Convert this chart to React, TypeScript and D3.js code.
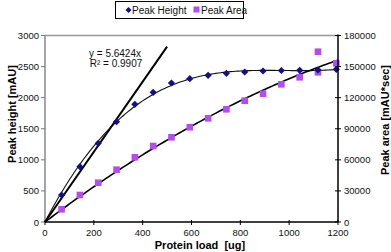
import React from "react";
import * as d3 from "d3";

const heightX = [68, 143, 218, 293, 368, 443, 518, 593, 668, 743, 818, 893, 968, 1043, 1118, 1193];
const heightY = [434, 890, 1266, 1613, 1893, 2086, 2236, 2305, 2360, 2392, 2413, 2429, 2437, 2440, 2445, 2456];
const areaX = [68, 143, 218, 293, 368, 443, 518, 593, 668, 743, 818, 893, 968, 1043, 1118, 1118, 1193];
const areaY = [12260, 26060, 37930, 50480, 62440, 73350, 81740, 91490, 100080, 108770, 117070, 123820, 132890, 139650, 144480, 164360, 153160];
const xTicks = [0, 200, 400, 600, 800, 1000, 1200];
const leftTicks = [0, 500, 1000, 1500, 2000, 2500, 3000];
const rightTicks = [0, 30000, 60000, 90000, 120000, 150000, 180000];
const linearSlope = 5.6424;
const linearEnd = 500;
const eqLabel = "y = 5.6424x";
const r2Label = "R\u00B2 = 0.9907";

// least squares polynomial with zero intercept: y = sum_{k=1..n} c_k x^k
function fitPoly(xs: number[], ys: number[], order: number): number[] {
  const s = 1000;
  const n = order;
  const A: number[][] = Array.from({ length: n }, () => new Array(n + 1).fill(0));
  xs.forEach((xv, i) => {
    const x = xv / s;
    const pw = d3.range(1, n + 1).map((k) => Math.pow(x, k));
    for (let r = 0; r < n; r++) {
      for (let c = 0; c < n; c++) A[r][c] += pw[r] * pw[c];
      A[r][n] += pw[r] * ys[i];
    }
  });
  for (let p = 0; p < n; p++) {
    let m = p;
    for (let r = p + 1; r < n; r++) if (Math.abs(A[r][p]) > Math.abs(A[m][p])) m = r;
    [A[p], A[m]] = [A[m], A[p]];
    for (let r = 0; r < n; r++) {
      if (r === p) continue;
      const f = A[r][p] / A[p][p];
      for (let c = p; c <= n; c++) A[r][c] -= f * A[p][c];
    }
  }
  const coef = A.map((row, i) => row[n] / row[i]);
  return coef.map((c, k) => c / Math.pow(s, k + 1));
}
const evalPoly = (c: number[], x: number) => c.reduce((acc, ck, k) => acc + ck * Math.pow(x, k + 1), 0);

const FONT = "'Liberation Sans', Arial, sans-serif";

export default function App() {
  const W = 391, H = 252;
  const x = d3.scaleLinear().domain([0, 1200]).range([45, 338]);
  const yL = d3.scaleLinear().domain([0, 3000]).range([222, 35.5]);
  const yR = d3.scaleLinear().domain([0, 180000]).range([222, 35.5]);

  const hCoef = fitPoly(heightX, heightY, 3);
  const aCoef = fitPoly(areaX, areaY, 2);
  const grid = d3.range(0, 1200.001, 10);
  const hLine = d3.line<number>().x((d) => x(d)).y((d) => yL(evalPoly(hCoef, d)))(grid) || "";
  const aLine = d3.line<number>().x((d) => x(d)).y((d) => yR(evalPoly(aCoef, d)))(grid) || "";
  const linLine = d3.line<number>().x((d) => x(d)).y((d) => yL(linearSlope * d))([0, linearEnd]) || "";

  const diamond = (r: number) => `M0,${-r}L${r},0L0,${r}L${-r},0Z`;
  const x0 = x(0), x1 = x(1200), yb = yL(0), yt = yL(3000);

  return (
    <svg width={W} height={H} style={{ position: "absolute", left: 0, top: 0, background: "#fff" }} fontFamily={FONT}>
      <rect x={0} y={0} width={W} height={H} fill="#fff" />
      {/* plot border */}
      <line x1={x0} x2={x1} y1={yt} y2={yt} stroke="#999" strokeWidth={1.5} />
      <line x1={x0} x2={x0} y1={yt} y2={yb} stroke="#888" strokeWidth={1.5} />
      {leftTicks.map((t) => (
        <g key={"l" + t}>
          <line x1={x0 - 4} x2={x0} y1={yL(t)} y2={yL(t)} stroke="#777" strokeWidth={1} />
          <text x={x0 - 6} y={yL(t) + 3.5} fontSize={9.5} textAnchor="end" fill="#111">{t}</text>
        </g>
      ))}
      {/* series */}
      <path d={linLine} fill="none" stroke="#000" strokeWidth={2} />
      <path d={hLine} fill="none" stroke="#111" strokeWidth={1.1} />
      <path d={aLine} fill="none" stroke="#000" strokeWidth={1.6} />
      {areaX.map((xv, i) => (
        <rect key={"a" + i} x={x(xv) - 3.3} y={yR(areaY[i]) - 3.3} width={6.6} height={6.6} fill="#b44cf0" />
      ))}
      {heightX.map((xv, i) => (
        <path key={"h" + i} d={diamond(3.6)} transform={`translate(${x(xv)},${yL(heightY[i])})`} fill="#10108a" />
      ))}
      {/* axes */}
      <line x1={x0} x2={x1} y1={yb} y2={yb} stroke="#000" strokeWidth={1.5} />
      {xTicks.map((t) => (
        <g key={"x" + t}>
          <line x1={x(t)} x2={x(t)} y1={yb - 2} y2={yb + 3} stroke="#000" strokeWidth={1} />
          <text x={x(t)} y={236} fontSize={9.5} textAnchor="middle" fill="#111">{t}</text>
        </g>
      ))}
      <line x1={x1} x2={x1} y1={yt - 1} y2={yb} stroke="#000" strokeWidth={1.5} />
      {rightTicks.map((t) => (
        <g key={"r" + t}>
          <line x1={x1 - 3} x2={x1 + 3} y1={yR(t)} y2={yR(t)} stroke="#000" strokeWidth={1} />
          <text x={x1 + 6} y={yR(t) + 3.5} fontSize={9.5} textAnchor="start" fill="#111">{t}</text>
        </g>
      ))}
      {/* equation */}
      <text x={115} y={57} fontSize={10} textAnchor="middle" fill="#111">{eqLabel}</text>
      <text x={116} y={67} fontSize={10} textAnchor="middle" fill="#111">{r2Label}</text>
      {/* titles */}
      <text x={200} y={249} fontSize={11} fontWeight="bold" textAnchor="middle" fill="#000">{"Protein load\u00A0 [ug]"}</text>
      <text transform={`translate(16,114) rotate(-90)`} fontSize={11} fontWeight="bold" textAnchor="middle" fill="#000">Peak height [mAU]</text>
      <text transform={`translate(389,120) rotate(-90)`} fontSize={11} fontWeight="bold" textAnchor="middle" fill="#000">Peak area [mAU*sec]</text>
      {/* legend */}
      <rect x={115.5} y={1.5} width={128} height={17} fill="#fff" stroke="#000" strokeWidth={1} />
      <path d={diamond(3)} transform="translate(128.5,10)" fill="#10108a" />
      <text x={132} y={13.5} fontSize={10} fill="#111">Peak Height</text>
      <rect x={193.5} y={6.5} width={6} height={6} fill="#b44cf0" />
      <text x={201} y={13.5} fontSize={10} fill="#111">Peak Area</text>
    </svg>
  );
}
